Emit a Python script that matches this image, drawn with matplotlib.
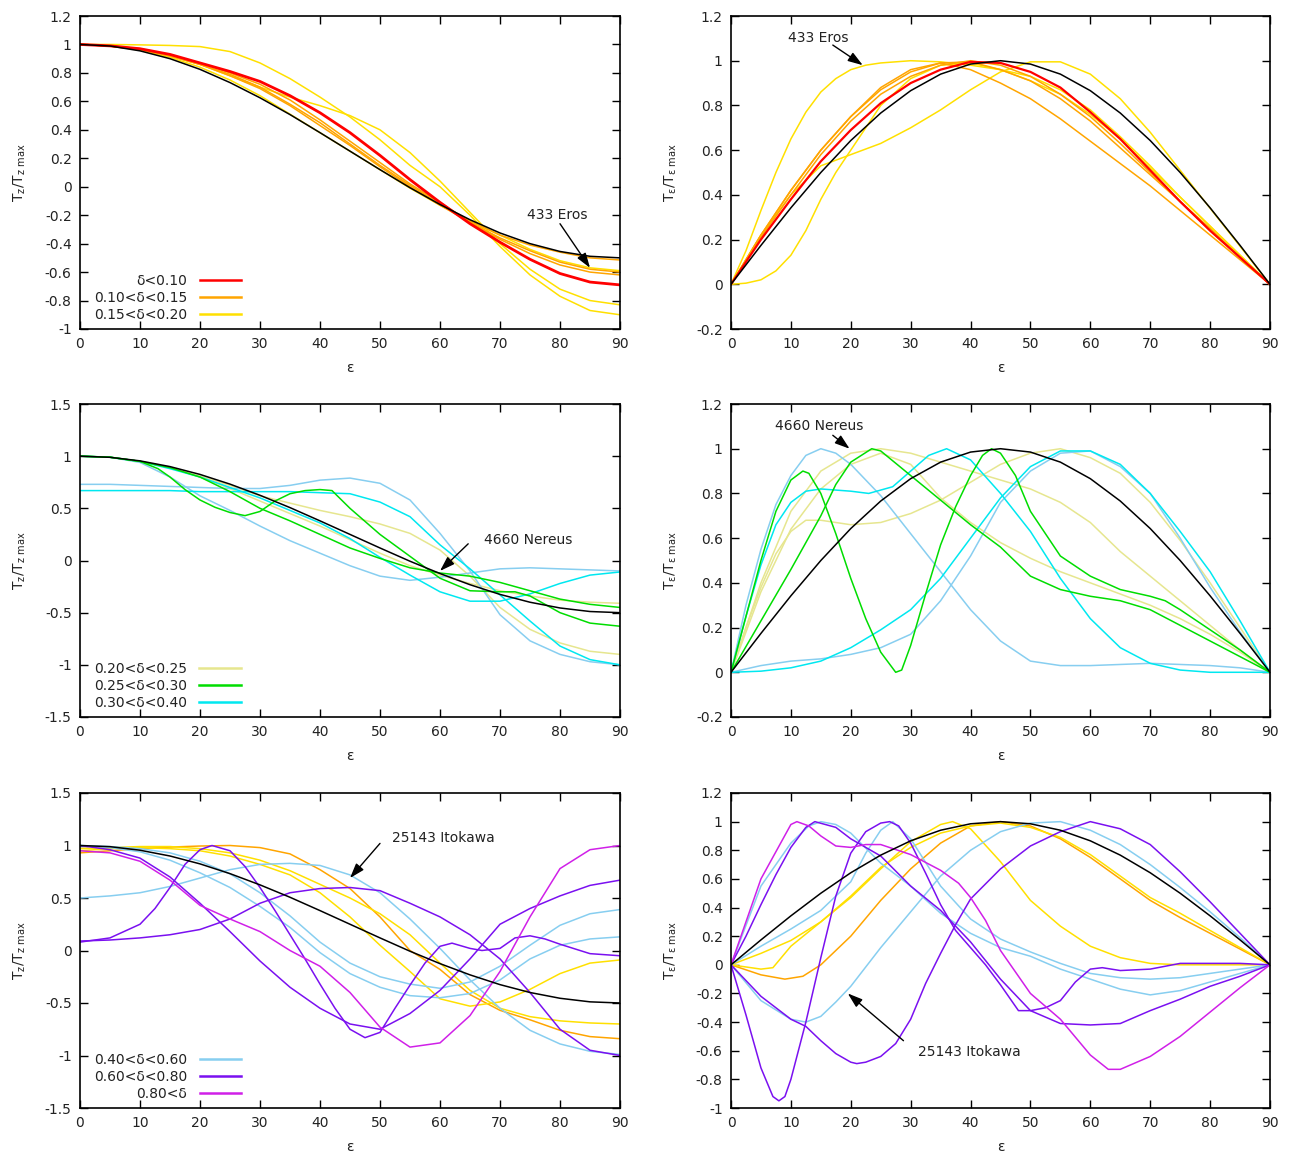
import matplotlib
matplotlib.use("Agg")
import matplotlib.pyplot as plt
from matplotlib.lines import Line2D
from matplotlib.ticker import FuncFormatter, MultipleLocator

plt.rcParams['font.family'] = ['DejaVu Sans']
plt.rcParams['axes.unicode_minus'] = False
plt.rcParams['mathtext.fontset'] = 'dejavusans'

# ---------------- data ----------------
X5 = [0, 5, 10, 15, 20, 25, 30, 35, 40, 45, 50, 55, 60, 65, 70, 75, 80, 85, 90]

# reference (sphere-like) curves, black
black_tz = [1.0, 0.989, 0.955, 0.900, 0.825, 0.732, 0.625, 0.507, 0.380, 0.250, 0.120,
            -0.007, -0.125, -0.232, -0.325, -0.400, -0.455, -0.489, -0.5]
black_te = [0, 0.174, 0.342, 0.5, 0.643, 0.766, 0.866, 0.940, 0.985, 1.0, 0.985,
            0.940, 0.866, 0.766, 0.643, 0.5, 0.342, 0.174, 0]

# ---- panel 1: Tz, delta < 0.20 ----
p1_red = [1, 0.99, 0.97, 0.93, 0.87, 0.81, 0.74, 0.64, 0.52, 0.38, 0.22, 0.05, -0.11,
          -0.26, -0.39, -0.51, -0.61, -0.67, -0.69]
p1_orange_a = [1, 0.99, 0.965, 0.92, 0.86, 0.79, 0.70, 0.58, 0.45, 0.30, 0.15, 0.01,
               -0.12, -0.24, -0.34, -0.41, -0.46, -0.50, -0.515]
p1_orange_b = [1, 0.99, 0.97, 0.925, 0.87, 0.80, 0.72, 0.61, 0.47, 0.32, 0.17, 0.02,
               -0.11, -0.25, -0.37, -0.47, -0.55, -0.60, -0.62]
p1_orange_c = [1, 0.99, 0.965, 0.92, 0.86, 0.78, 0.69, 0.57, 0.43, 0.29, 0.14, 0.00,
               -0.13, -0.25, -0.36, -0.45, -0.53, -0.58, -0.60]
p1_yellow_a = [1, 1.0, 0.997, 0.993, 0.985, 0.95, 0.87, 0.76, 0.63, 0.49, 0.33, 0.15,
               0.0, -0.20, -0.42, -0.62, -0.77, -0.87, -0.90]
p1_yellow_b = [1, 0.99, 0.97, 0.92, 0.86, 0.78, 0.70, 0.63, 0.57, 0.50, 0.40, 0.24,
               0.04, -0.18, -0.40, -0.58, -0.72, -0.80, -0.83]
p1_yellow_c = [1, 0.99, 0.96, 0.91, 0.84, 0.75, 0.64, 0.51, 0.38, 0.25, 0.12, -0.01,
               -0.13, -0.24, -0.34, -0.44, -0.52, -0.57, -0.59]

# ---- panel 2: Te, delta < 0.20 ----
p2_red = [0, 0.20, 0.38, 0.55, 0.69, 0.81, 0.90, 0.96, 0.995, 0.99, 0.95, 0.88, 0.77,
          0.65, 0.51, 0.37, 0.24, 0.12, 0]
p2_orange_a = [0, 0.22, 0.42, 0.60, 0.75, 0.87, 0.95, 0.99, 0.995, 0.96, 0.91, 0.83,
               0.73, 0.61, 0.49, 0.37, 0.25, 0.12, 0]
p2_orange_b = [0, 0.22, 0.42, 0.60, 0.75, 0.88, 0.96, 0.99, 0.96, 0.90, 0.83, 0.74,
               0.64, 0.54, 0.44, 0.33, 0.22, 0.11, 0]
p2_orange_c = [0, 0.21, 0.40, 0.58, 0.73, 0.85, 0.93, 0.98, 1.0, 0.98, 0.93, 0.85,
               0.75, 0.63, 0.50, 0.37, 0.24, 0.12, 0]
p2_x_fine = [0, 2.5, 5, 7.5, 10, 12.5, 15, 17.5, 20, 22.5, 25, 30, 35, 40, 45, 50, 55,
             60, 65, 70, 75, 80, 85, 90]
p2_yellow_a = [0, 0.15, 0.33, 0.50, 0.65, 0.77, 0.86, 0.92, 0.96, 0.98, 0.99, 1.0,
               0.995, 0.98, 0.96, 0.93, 0.87, 0.78, 0.66, 0.53, 0.39, 0.26, 0.13, 0]
p2_yellow_b = [0, 0.005, 0.02, 0.06, 0.13, 0.24, 0.38, 0.50, 0.60, 0.70, 0.80, 0.92,
               0.98, 0.99, 0.96, 0.91, 0.85, 0.76, 0.65, 0.52, 0.39, 0.26, 0.13, 0]
p2_yellow_c = [0, 0.22, 0.40, 0.53, 0.58, 0.63, 0.70, 0.78, 0.87, 0.95, 0.995, 0.995,
               0.94, 0.83, 0.68, 0.51, 0.34, 0.17, 0]

# ---- panel 3: Tz, 0.20 < delta < 0.40 ----
p3_pale_a = [1, 0.99, 0.95, 0.89, 0.81, 0.72, 0.62, 0.55, 0.48, 0.42, 0.35, 0.26, 0.10,
             -0.15, -0.45, -0.66, -0.79, -0.87, -0.90]
p3_pale_b = [1, 0.99, 0.95, 0.89, 0.80, 0.69, 0.57, 0.45, 0.33, 0.20, 0.07, -0.05,
             -0.14, -0.22, -0.29, -0.34, -0.38, -0.40, -0.41]
p3_green_a_x = [0, 5, 10, 13, 15, 17.5, 20, 22.5, 25, 27.5, 30, 32.5, 35, 37.5, 40, 42,
                45, 50, 55, 60, 65, 70, 72.5, 75, 80, 85, 90]
p3_green_a = [1, 0.99, 0.95, 0.88, 0.80, 0.68, 0.58, 0.51, 0.46, 0.43, 0.47, 0.57, 0.64,
              0.67, 0.68, 0.67, 0.50, 0.25, 0.04, -0.17, -0.29, -0.30, -0.30, -0.34,
              -0.50, -0.60, -0.63]
p3_green_b = [1, 0.99, 0.95, 0.89, 0.80, 0.66, 0.50, 0.38, 0.25, 0.12, 0.02, -0.07,
              -0.12, -0.15, -0.21, -0.29, -0.37, -0.42, -0.45]
p3_cyan_a = [0.67, 0.67, 0.67, 0.67, 0.66, 0.66, 0.66, 0.66, 0.65, 0.64, 0.56, 0.42,
             0.15, -0.08, -0.33, -0.58, -0.82, -0.95, -1.0]
p3_cyan_b = [1, 0.99, 0.95, 0.88, 0.80, 0.70, 0.60, 0.48, 0.36, 0.21, 0.03, -0.14,
             -0.30, -0.39, -0.39, -0.32, -0.22, -0.14, -0.11]
p3_blue_a = [0.73, 0.73, 0.72, 0.71, 0.70, 0.69, 0.69, 0.72, 0.77, 0.79, 0.74, 0.58,
             0.26, -0.10, -0.52, -0.77, -0.90, -0.97, -1.0]
p3_blue_b = [1, 0.99, 0.94, 0.80, 0.62, 0.48, 0.33, 0.19, 0.07, -0.05, -0.15, -0.19,
             -0.16, -0.12, -0.08, -0.07, -0.08, -0.09, -0.10]

# ---- panel 4: Te, 0.20 < delta < 0.40 ----
p4_blue_a_x = [0, 2.5, 5, 7.5, 10, 12.5, 15, 17.5, 20, 25, 30, 35, 40, 45, 50, 55, 60,
               65, 70, 75, 80, 85, 90]
p4_blue_a = [0, 0.30, 0.55, 0.75, 0.88, 0.97, 1.0, 0.98, 0.93, 0.79, 0.62, 0.45, 0.28,
             0.14, 0.05, 0.03, 0.03, 0.035, 0.04, 0.035, 0.03, 0.02, 0]
p4_blue_b = [0, 0.03, 0.05, 0.06, 0.08, 0.11, 0.17, 0.32, 0.52, 0.76, 0.90, 0.98, 0.99,
             0.92, 0.80, 0.60, 0.38, 0.18, 0]
p4_cyan_a_x = [0, 2.5, 5, 7.5, 10, 12.5, 15, 20, 23, 27, 30, 33, 36, 40, 45, 50, 55, 60,
               65, 70, 75, 80, 85, 90]
p4_cyan_a = [0, 0.25, 0.48, 0.66, 0.76, 0.81, 0.82, 0.81, 0.80, 0.83, 0.90, 0.97, 1.0,
             0.95, 0.80, 0.63, 0.42, 0.24, 0.11, 0.04, 0.01, 0.0, 0.0, 0]
p4_cyan_b = [0, 0.005, 0.02, 0.05, 0.11, 0.19, 0.28, 0.42, 0.60, 0.78, 0.92, 0.99,
             0.99, 0.93, 0.80, 0.63, 0.45, 0.23, 0]
p4_green_a_x = [0, 2.5, 5, 7.5, 10, 12, 13, 15, 17.5, 20, 22.5, 25, 27.5, 28.5, 30,
                32.5, 35, 37.5, 40, 42, 43.5, 45, 47.5, 50, 55, 60, 65, 70, 72.5, 75,
                80, 85, 90]
p4_green_a = [0, 0.25, 0.50, 0.72, 0.86, 0.90, 0.89, 0.80, 0.62, 0.42, 0.24, 0.09, 0.0,
              0.01, 0.12, 0.35, 0.57, 0.74, 0.88, 0.97, 1.0, 0.98, 0.88, 0.72, 0.52,
              0.43, 0.37, 0.34, 0.32, 0.28, 0.19, 0.10, 0]
p4_green_b_x = [0, 5, 10, 15, 17.5, 20, 23.5, 25, 30, 35, 40, 45, 50, 55, 60, 65, 70,
                75, 80, 85, 90]
p4_green_b = [0, 0.23, 0.46, 0.70, 0.84, 0.94, 1.0, 0.99, 0.88, 0.77, 0.66, 0.56, 0.43,
              0.37, 0.34, 0.32, 0.28, 0.21, 0.14, 0.07, 0]
p4_pale_a_x = [0, 2.5, 5, 7.5, 10, 12.5, 15, 20, 25, 30, 35, 40, 45, 50, 55, 60, 65,
               70, 75, 80, 85, 90]
p4_pale_a = [0, 0.20, 0.38, 0.53, 0.63, 0.68, 0.68, 0.66, 0.67, 0.71, 0.77, 0.85, 0.93,
             0.98, 1.0, 0.96, 0.89, 0.76, 0.59, 0.40, 0.20, 0]
p4_pale_b = [0, 0.40, 0.72, 0.90, 0.98, 1.0, 0.98, 0.94, 0.90, 0.86, 0.82, 0.76, 0.67,
             0.54, 0.43, 0.32, 0.21, 0.10, 0]
p4_pale_c = [0, 0.36, 0.64, 0.82, 0.93, 0.98, 0.93, 0.78, 0.67, 0.58, 0.51, 0.45, 0.40,
             0.35, 0.30, 0.24, 0.17, 0.09, 0]

# ---- panel 5: Tz, delta > 0.40 ----
p5_orange = [0.93, 0.95, 0.97, 0.985, 0.995, 1.0, 0.98, 0.92, 0.77, 0.59, 0.32, 0.0,
             -0.18, -0.42, -0.57, -0.66, -0.76, -0.82, -0.84]
p5_yellow_a = [0.97, 0.98, 0.99, 0.99, 0.97, 0.93, 0.86, 0.76, 0.63, 0.50, 0.35, 0.15,
               -0.12, -0.38, -0.55, -0.63, -0.67, -0.69, -0.70]
p5_yellow_b = [0.95, 0.97, 0.98, 0.97, 0.95, 0.90, 0.82, 0.72, 0.55, 0.32, 0.05, -0.20,
               -0.46, -0.53, -0.49, -0.37, -0.22, -0.12, -0.09]
p5_blue_a = [0.50, 0.52, 0.55, 0.61, 0.69, 0.77, 0.82, 0.83, 0.81, 0.72, 0.55, 0.30,
             0.02, -0.28, -0.55, -0.76, -0.89, -0.96, -0.99]
p5_blue_b = [1.0, 0.98, 0.94, 0.86, 0.74, 0.60, 0.42, 0.22, -0.02, -0.22, -0.35, -0.43,
             -0.45, -0.41, -0.28, -0.08, 0.05, 0.11, 0.13]
p5_blue_c = [1.0, 0.99, 0.97, 0.93, 0.85, 0.73, 0.55, 0.33, 0.08, -0.12, -0.25, -0.32,
             -0.36, -0.30, -0.15, 0.05, 0.24, 0.35, 0.39]
p5_purple_a_x = [0, 5, 10, 12.5, 15, 17.5, 20, 22, 25, 27.5, 30, 32.5, 35, 37.5, 40,
                 42.5, 45, 47.5, 50, 52.5, 55, 57.5, 60, 62, 65, 67, 70, 72.5, 75,
                 77.5, 80, 85, 90]
p5_purple_a = [0.08, 0.12, 0.25, 0.40, 0.60, 0.82, 0.96, 1.0, 0.95, 0.80, 0.60, 0.38,
               0.15, -0.08, -0.32, -0.55, -0.75, -0.83, -0.78, -0.55, -0.33, -0.12,
               0.04, 0.07, 0.02, 0.0, 0.02, 0.12, 0.14, 0.11, 0.06, -0.03, -0.05]
p5_purple_b = [1.0, 0.96, 0.88, 0.70, 0.45, 0.18, -0.10, -0.35, -0.55, -0.70, -0.75,
               -0.60, -0.38, -0.08, 0.25, 0.40, 0.52, 0.62, 0.67]
p5_purple_c = [0.09, 0.10, 0.12, 0.15, 0.20, 0.30, 0.45, 0.55, 0.59, 0.60, 0.57, 0.45,
               0.32, 0.15, -0.08, -0.40, -0.75, -0.95, -1.0]
p5_magenta = [0.95, 0.93, 0.85, 0.67, 0.43, 0.30, 0.18, 0.0, -0.15, -0.40, -0.73,
              -0.92, -0.88, -0.62, -0.20, 0.32, 0.78, 0.96, 1.0]

# ---- panel 6: Te, delta > 0.40 ----
p6_magenta_x = [0, 5, 10, 11, 13, 15, 17.5, 20, 22.5, 25, 30, 35, 38, 40, 42.5, 45,
                50, 55, 60, 63, 65, 70, 75, 80, 85, 90]
p6_magenta = [0, 0.60, 0.98, 1.0, 0.97, 0.90, 0.83, 0.82, 0.84, 0.84, 0.77, 0.66, 0.57,
              0.47, 0.31, 0.10, -0.20, -0.38, -0.63, -0.73, -0.73, -0.64, -0.50,
              -0.33, -0.16, 0]
p6_purple_a_x = [0, 2.5, 5, 7, 8, 9, 10, 12.5, 15, 17.5, 20, 22.5, 25, 26.5, 28, 30,
                 32.5, 35, 37.5, 40, 42.5, 45, 48, 50, 52.5, 55, 57.5, 60, 62, 65, 70,
                 75, 80, 85, 90]
p6_purple_a = [0, -0.35, -0.72, -0.92, -0.95, -0.92, -0.80, -0.40, 0.05, 0.48, 0.78,
               0.93, 0.99, 1.0, 0.97, 0.85, 0.64, 0.42, 0.24, 0.12, 0.0, -0.14, -0.32,
               -0.32, -0.30, -0.25, -0.12, -0.03, -0.02, -0.04, -0.03, 0.01, 0.01,
               0.01, 0]
p6_purple_b_x = [0, 2.5, 5, 7.5, 10, 12.5, 14, 17.5, 20, 25, 30, 35, 40, 45, 50, 55,
                 60, 65, 70, 75, 80, 85, 90]
p6_purple_b = [0, 0.20, 0.42, 0.63, 0.82, 0.96, 1.0, 0.96, 0.88, 0.76, 0.55, 0.38,
               0.16, -0.10, -0.32, -0.41, -0.42, -0.41, -0.32, -0.24, -0.15, -0.08, 0]
p6_purple_c_x = [0, 5, 10, 12.5, 15, 17.5, 20, 21, 22.5, 25, 27.5, 30, 32.5, 35, 37.5,
                 40, 45, 50, 55, 60, 65, 70, 75, 80, 85, 90]
p6_purple_c = [0, -0.22, -0.38, -0.43, -0.53, -0.62, -0.68, -0.69, -0.68, -0.64,
               -0.55, -0.38, -0.13, 0.08, 0.28, 0.46, 0.67, 0.83, 0.93, 1.0, 0.95,
               0.84, 0.65, 0.44, 0.22, 0]
p6_blue_a_x = [0, 5, 10, 12.5, 15, 17.5, 20, 25, 30, 35, 40, 45, 50, 55, 60, 65, 70,
               75, 80, 85, 90]
p6_blue_a = [0, -0.25, -0.38, -0.40, -0.36, -0.26, -0.15, 0.12, 0.37, 0.62, 0.80,
             0.93, 0.99, 1.0, 0.94, 0.84, 0.70, 0.54, 0.37, 0.19, 0]
p6_blue_b_x = [0, 5, 10, 13, 15, 17.5, 20, 25, 30, 35, 40, 45, 50, 55, 60, 65, 70, 75,
               80, 85, 90]
p6_blue_b = [0, 0.55, 0.85, 0.97, 1.0, 0.98, 0.92, 0.71, 0.55, 0.36, 0.22, 0.12, 0.06,
             -0.03, -0.10, -0.17, -0.21, -0.18, -0.12, -0.06, 0]
p6_blue_c_x = [0, 5, 10, 15, 20, 22.5, 25, 27, 30, 35, 40, 45, 50, 55, 60, 65, 70, 75,
               80, 85, 90]
p6_blue_c = [0, 0.13, 0.25, 0.38, 0.58, 0.78, 0.94, 1.0, 0.88, 0.55, 0.32, 0.18, 0.09,
             0.01, -0.06, -0.09, -0.10, -0.09, -0.06, -0.03, 0]
p6_yellow_a_x = [0, 5, 7, 10, 15, 20, 25, 30, 35, 37, 40, 45, 50, 55, 60, 65, 70, 75,
                 80, 85, 90]
p6_yellow_a = [0, -0.03, -0.02, 0.13, 0.30, 0.47, 0.67, 0.86, 0.98, 1.0, 0.95, 0.72,
               0.45, 0.27, 0.13, 0.05, 0.01, 0.0, 0.0, 0.0, 0]
p6_yellow_b = [0, 0.08, 0.17, 0.30, 0.48, 0.68, 0.82, 0.92, 0.97, 0.99, 0.96, 0.89,
               0.77, 0.62, 0.47, 0.36, 0.24, 0.12, 0]
p6_orange_x = [0, 5, 9, 12, 15, 20, 25, 30, 35, 40, 45, 50, 55, 60, 65, 70, 75, 80, 85,
               90]
p6_orange = [0, -0.07, -0.10, -0.08, 0.0, 0.20, 0.45, 0.67, 0.85, 0.97, 1.0, 0.97,
             0.88, 0.75, 0.60, 0.45, 0.33, 0.22, 0.11, 0]

# legend labels
labels_top = ["δ<0.10", "0.10<δ<0.15", "0.15<δ<0.20"]
labels_mid = ["0.20<δ<0.25", "0.25<δ<0.30", "0.30<δ<0.40"]
labels_bot = ["0.40<δ<0.60", "0.60<δ<0.80", "0.80<δ"]

# ---------------- style ----------------
RED = '#ff0000'
ORANGE = '#ffa500'
YELLOW = '#ffe000'
PALE = '#e6e68f'
GREEN = '#00dd00'
CYAN = '#00e8f0'
SKY = '#87cef0'
PURPLE = '#7a10f0'
MAGENTA = '#d020e8'
BLACK = '#000000'
LW = 1.1
TXT = '#222222'
FS = 10

fig = plt.figure(figsize=(12.92, 11.55), dpi=100)
W, H = 1292.0, 1155.0
cols = [(80, 620), (731, 1270)]
rows = [(16, 329), (404, 717), (793, 1108)]


def make_ax(r, c):
    x0, x1 = cols[c]
    y0, y1 = rows[r]
    return fig.add_axes([x0 / W, 1 - y1 / H, (x1 - x0) / W, (y1 - y0) / H])


fmt = FuncFormatter(lambda v, p: ('%g' % round(v, 3)) if abs(v) > 1e-9 else '0')


def style(ax, ymin, ymax, ystep, ylabel):
    ax.set_xlim(0, 90)
    ax.set_ylim(ymin, ymax)
    ax.xaxis.set_major_locator(MultipleLocator(10))
    ax.yaxis.set_major_locator(MultipleLocator(ystep))
    ax.yaxis.set_major_formatter(fmt)
    ax.xaxis.set_major_formatter(fmt)
    ax.tick_params(direction='in', length=6, width=1.0, top=True, right=True,
                   labelsize=FS, colors=BLACK, labelcolor=TXT, pad=6)
    for s in ax.spines.values():
        s.set_linewidth(1.2)
    ax.set_xlabel('ε', fontsize=FS, color=TXT, labelpad=7)
    ax.set_ylabel(ylabel, fontsize=FS, color=TXT, labelpad=12)


YL_Z = r'$\mathregular{T_z/T_{z\ max}}$'
YL_E = r'$\mathregular{T_\varepsilon/T_{\varepsilon\ max}}$'


def arrow(ax, text, xt, yt, xa, ya, xs, ys):
    ax.text(xt, yt, text, fontsize=FS, color=TXT, ha='left', va='center')
    ax.annotate('', xy=(xa, ya), xytext=(xs, ys),
                arrowprops=dict(arrowstyle='-|>,head_length=0.9,head_width=0.3',
                                color=BLACK, lw=1.0, shrinkA=0, shrinkB=0))


def add_legend(ax, colors, labels):
    handles = [Line2D([], [], color=c, lw=1.8) for c in colors]
    ax.legend(handles, labels, loc='lower left', bbox_to_anchor=(0.005, -0.012),
              frameon=False, markerfirst=False, fontsize=FS, handlelength=3.0,
              handletextpad=0.9, labelspacing=0.2, borderpad=0.3,
              labelcolor=TXT)


# ---- panel 1 ----
ax = make_ax(0, 0)
for y in (p1_yellow_a, p1_yellow_b, p1_yellow_c):
    ax.plot(X5, y, color=YELLOW, lw=LW)
for y in (p1_orange_a, p1_orange_b, p1_orange_c):
    ax.plot(X5, y, color=ORANGE, lw=LW)
ax.plot(X5, p1_red, color=RED, lw=2.0)
ax.plot(X5, black_tz, color=BLACK, lw=LW)
style(ax, -1, 1.2, 0.2, YL_Z)
add_legend(ax, [RED, ORANGE, YELLOW], labels_top)
arrow(ax, '433 Eros', 74.5, -0.2, 85, -0.57, 80, -0.26)

# ---- panel 2 ----
ax = make_ax(0, 1)
ax.plot(p2_x_fine, p2_yellow_a, color=YELLOW, lw=LW)
ax.plot(p2_x_fine, p2_yellow_b, color=YELLOW, lw=LW)
ax.plot(X5, p2_yellow_c, color=YELLOW, lw=LW)
for y in (p2_orange_a, p2_orange_b, p2_orange_c):
    ax.plot(X5, y, color=ORANGE, lw=LW)
ax.plot(X5, p2_red, color=RED, lw=1.6)
ax.plot(X5, black_te, color=BLACK, lw=LW)
style(ax, -0.2, 1.2, 0.2, YL_E)
arrow(ax, '433 Eros', 9.5, 1.1, 22, 0.98, 17, 1.07)

# ---- panel 3 ----
ax = make_ax(1, 0)
ax.plot(X5, p3_pale_a, color=PALE, lw=LW)
ax.plot(X5, p3_pale_b, color=PALE, lw=LW)
ax.plot(X5, p3_blue_a, color=SKY, lw=LW)
ax.plot(X5, p3_blue_b, color=SKY, lw=LW)
ax.plot(X5, p3_cyan_a, color=CYAN, lw=LW)
ax.plot(X5, p3_cyan_b, color=CYAN, lw=LW)
ax.plot(p3_green_a_x, p3_green_a, color=GREEN, lw=LW)
ax.plot(X5, p3_green_b, color=GREEN, lw=LW)
ax.plot(X5, black_tz, color=BLACK, lw=LW)
style(ax, -1.5, 1.5, 0.5, YL_Z)
add_legend(ax, [PALE, GREEN, CYAN], labels_mid)
arrow(ax, '4660 Nereus', 67.3, 0.2, 60, -0.1, 64.7, 0.16)

# ---- panel 4 ----
ax = make_ax(1, 1)
ax.plot(p4_pale_a_x, p4_pale_a, color=PALE, lw=LW)
ax.plot(X5, p4_pale_b, color=PALE, lw=LW)
ax.plot(X5, p4_pale_c, color=PALE, lw=LW)
ax.plot(p4_blue_a_x, p4_blue_a, color=SKY, lw=LW)
ax.plot(X5, p4_blue_b, color=SKY, lw=LW)
ax.plot(p4_cyan_a_x, p4_cyan_a, color=CYAN, lw=LW)
ax.plot(X5, p4_cyan_b, color=CYAN, lw=LW)
ax.plot(p4_green_a_x, p4_green_a, color=GREEN, lw=LW)
ax.plot(p4_green_b_x, p4_green_b, color=GREEN, lw=LW)
ax.plot(X5, black_te, color=BLACK, lw=LW)
style(ax, -0.2, 1.2, 0.2, YL_E)
arrow(ax, '4660 Nereus', 7.3, 1.1, 19.8, 1.0, 17, 1.06)

# ---- panel 5 ----
ax = make_ax(2, 0)
ax.plot(X5, p5_orange, color=ORANGE, lw=LW)
ax.plot(X5, p5_yellow_a, color=YELLOW, lw=LW)
ax.plot(X5, p5_yellow_b, color=YELLOW, lw=LW)
for y in (p5_blue_a, p5_blue_b, p5_blue_c):
    ax.plot(X5, y, color=SKY, lw=LW)
ax.plot(p5_purple_a_x, p5_purple_a, color=PURPLE, lw=LW)
ax.plot(X5, p5_purple_b, color=PURPLE, lw=LW)
ax.plot(X5, p5_purple_c, color=PURPLE, lw=LW)
ax.plot(X5, p5_magenta, color=MAGENTA, lw=LW)
ax.plot(X5, black_tz, color=BLACK, lw=LW)
style(ax, -1.5, 1.5, 0.5, YL_Z)
add_legend(ax, [SKY, PURPLE, MAGENTA], labels_bot)
arrow(ax, '25143 Itokawa', 52, 1.07, 45, 0.69, 50, 1.02)

# ---- panel 6 ----
ax = make_ax(2, 1)
ax.plot(p6_orange_x, p6_orange, color=ORANGE, lw=LW)
ax.plot(p6_yellow_a_x, p6_yellow_a, color=YELLOW, lw=LW)
ax.plot(X5, p6_yellow_b, color=YELLOW, lw=LW)
ax.plot(p6_blue_a_x, p6_blue_a, color=SKY, lw=LW)
ax.plot(p6_blue_b_x, p6_blue_b, color=SKY, lw=LW)
ax.plot(p6_blue_c_x, p6_blue_c, color=SKY, lw=LW)
ax.plot(p6_purple_a_x, p6_purple_a, color=PURPLE, lw=LW)
ax.plot(p6_purple_b_x, p6_purple_b, color=PURPLE, lw=LW)
ax.plot(p6_purple_c_x, p6_purple_c, color=PURPLE, lw=LW)
ax.plot(p6_magenta_x, p6_magenta, color=MAGENTA, lw=LW)
ax.plot(X5, black_te, color=BLACK, lw=LW)
style(ax, -1, 1.2, 0.2, YL_E)
arrow(ax, '25143 Itokawa', 31.2, -0.61, 19.5, -0.2, 28.8, -0.53)

fig.savefig('out.png', dpi=100)
